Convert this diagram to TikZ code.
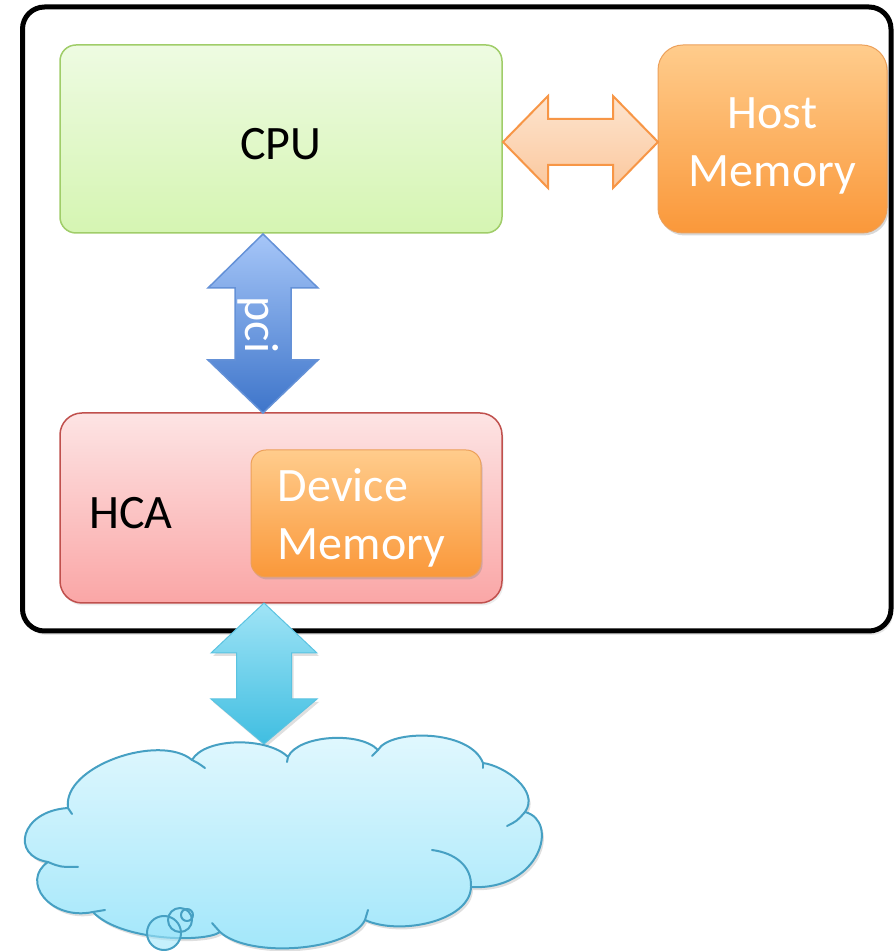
\documentclass[tikz,border=0pt]{standalone}
\usepackage{fontspec}
\setmainfont{Carlito}
\usetikzlibrary{shadows}
\definecolor{cpuTop}{RGB}{238,251,226}
\definecolor{cpuBot}{RGB}{213,245,178}
\definecolor{cpuLine}{RGB}{160,205,105}
\definecolor{memTop}{RGB}{255,204,140}
\definecolor{memBot}{RGB}{250,152,58}
\definecolor{memLine}{RGB}{236,160,90}
\definecolor{hcaTop}{RGB}{253,228,228}
\definecolor{hcaBot}{RGB}{250,166,166}
\definecolor{hcaLine}{RGB}{192,80,77}
\definecolor{haTop}{RGB}{253,228,206}
\definecolor{haBot}{RGB}{251,200,158}
\definecolor{haLine}{RGB}{247,150,70}
\definecolor{pciTop}{RGB}{166,198,248}
\definecolor{pciBot}{RGB}{62,117,202}
\definecolor{pciLine}{RGB}{100,145,215}
\definecolor{cyTop}{RGB}{160,228,246}
\definecolor{cyBot}{RGB}{64,190,225}
\definecolor{cyLine}{RGB}{90,195,225}
\definecolor{clTop}{RGB}{226,248,254}
\definecolor{clBot}{RGB}{160,230,250}
\definecolor{clLine}{RGB}{70,160,195}
\newcommand{\vdarrow}[7]{% cx, ytop, ybot, headhalf, shafthalf, headtop, headbot
  (#1,#2) -- (#1+#4,#2-#6) -- (#1+#5,#2-#6) -- (#1+#5,#3+#7) -- (#1+#4,#3+#7)
  -- (#1,#3) -- (#1-#4,#3+#7) -- (#1-#5,#3+#7) -- (#1-#5,#2-#6) -- (#1-#4,#2-#6) -- cycle}
\begin{document}
\begin{tikzpicture}[x=1pt,y=1pt,
  txt/.style={font=\fontsize{48}{58}\selectfont, align=center, inner sep=0pt},
  frm/.style={draw=black, line width=5pt, rounded corners=22pt, fill=white,
    drop shadow={shadow xshift=2pt, shadow yshift=-4pt, opacity=0.2}},
  cpubox/.style={draw=cpuLine, line width=1.5pt, rounded corners=16pt,
    top color=cpuTop, bottom color=cpuBot},
  membox/.style={draw=memLine, line width=1pt, rounded corners=#1,
    top color=memTop, bottom color=memBot,
    drop shadow={shadow xshift=1.5pt, shadow yshift=-2.5pt, opacity=0.3}},
  hcabox/.style={draw=hcaLine, line width=1.5pt, rounded corners=22pt,
    top color=hcaTop, bottom color=hcaBot,
    drop shadow={shadow xshift=1.5pt, shadow yshift=-2.5pt, opacity=0.15}},
  harrow/.style={draw=haLine, line width=2pt, line join=miter,
    top color=haTop, bottom color=haBot},
  pciarrow/.style={draw=pciLine, line width=1.5pt,
    top color=pciTop, bottom color=pciBot},
  cyarrow/.style={draw=cyLine, line width=1pt,
    top color=cyTop, bottom color=cyBot,
    drop shadow={shadow xshift=2pt, shadow yshift=-3pt, opacity=0.25}},
  cloudfill/.style={top color=clTop, bottom color=clBot,
    drop shadow={shadow xshift=2pt, shadow yshift=-3pt, opacity=0.25}},
  cloudline/.style={draw=clLine, line width=2pt, line cap=round, line join=round}
]
\useasboundingbox (0,0) rectangle (895,951);

% outer frame
\node[frm, minimum width=868.5pt, minimum height=624pt] (frame) at (456.75,632) {};

% boxes
\node[cpubox, minimum width=442pt, minimum height=188pt] (cpu) at (281,812) {};
\node[txt] (cpulabel) at (281,807) {CPU};
\node[membox=25pt, minimum width=229pt, minimum height=188pt] (host) at (772.5,812) {};
\node[txt, text=white] (hostlabel) at (772.5,805) {Host\\Memory};
\node[hcabox, minimum width=442pt, minimum height=190pt] (hca) at (281,443) {};
\node[txt] (hcalabel) at (131,438) {HCA};
\node[membox=15pt, minimum width=230pt, minimum height=127pt] (dev) at (366,437.5) {};
\node[txt, align=left, text=white] (devlabel) at (361.5,433) {Device\\Memory};

% horizontal double arrow CPU <-> Host Memory
\path[harrow] (503,809) -- (548,855) -- (548,832) -- (613,832) -- (613,855) -- (658,809)
  -- (613,763) -- (613,786) -- (548,786) -- (548,763) -- cycle;

% pci double arrow
\path[pciarrow] \vdarrow{263}{717}{538}{55}{28}{54}{53};
\node[txt, text=white, rotate=-90] (pci) at (258,626) {pci};

% network double arrow
\path[cyarrow] \vdarrow{264}{348}{207}{53}{27.5}{50}{45};

% cloud
\path[cloudfill] (68,143) .. controls (62,185) and (160,218) .. (192,191)
 .. controls (205,214) and (268,214) .. (288,194)
 .. controls (298,216) and (360,220) .. (378,201)
 .. controls (390,222) and (470,222) .. (483,188)
 .. controls (505,185) and (540,160) .. (525,139)
 .. controls (560,130) and (540,60) .. (471,64)
 .. controls (470,30) and (400,15) .. (365,31)
 .. controls (350,0) and (250,-8) .. (220,19)
 .. controls (205,8) and (120,10) .. (93,39)
 .. controls (50,30) and (20,70) .. (48,89)
 .. controls (10,95) and (20,140) .. (68,143) -- cycle;
\draw[cloudline] (68,143) .. controls (62,185) and (160,218) .. (192,191)
 .. controls (205,214) and (268,214) .. (288,194)
 .. controls (298,216) and (360,220) .. (378,201)
 .. controls (390,222) and (470,222) .. (483,188)
 .. controls (505,185) and (540,160) .. (525,139)
 .. controls (560,130) and (540,60) .. (471,64)
 .. controls (470,30) and (400,15) .. (365,31)
 .. controls (350,0) and (250,-8) .. (220,19)
 .. controls (205,8) and (120,10) .. (93,39)
 .. controls (50,30) and (20,70) .. (48,89)
 .. controls (10,95) and (20,140) .. (68,143);
% inner arcs of the cloud
\draw[cloudline] (68,143) .. controls (70,140) .. (72,137);
\draw[cloudline] (48,89) .. controls (60,84) .. (78,84);
\draw[cloudline] (93,39) .. controls (99,40) .. (105,41);
\draw[cloudline] (220,19) .. controls (216,24) .. (212,28);
\draw[cloudline] (365,31) .. controls (367,36) .. (368,41);
\draw[cloudline] (471,64) .. controls (472,85) and (455,98) .. (432,101);
\draw[cloudline] (525,139) .. controls (517,130) .. (507,125);
\draw[cloudline] (483,188) -- (483,183);
\draw[cloudline] (378,201) -- (372,195);
\draw[cloudline] (288,194) -- (287,189);
\draw[cloudline] (192,191) .. controls (198,188) .. (205,183);
% thought-bubble circles
\fill[clBot, opacity=0.6] (164,18) circle (17);
\draw[cloudline] (164,18) circle (17);
\draw[cloudline] (180,31) circle (12);
\draw[cloudline] (187,36) circle (6);
\end{tikzpicture}
\end{document}
